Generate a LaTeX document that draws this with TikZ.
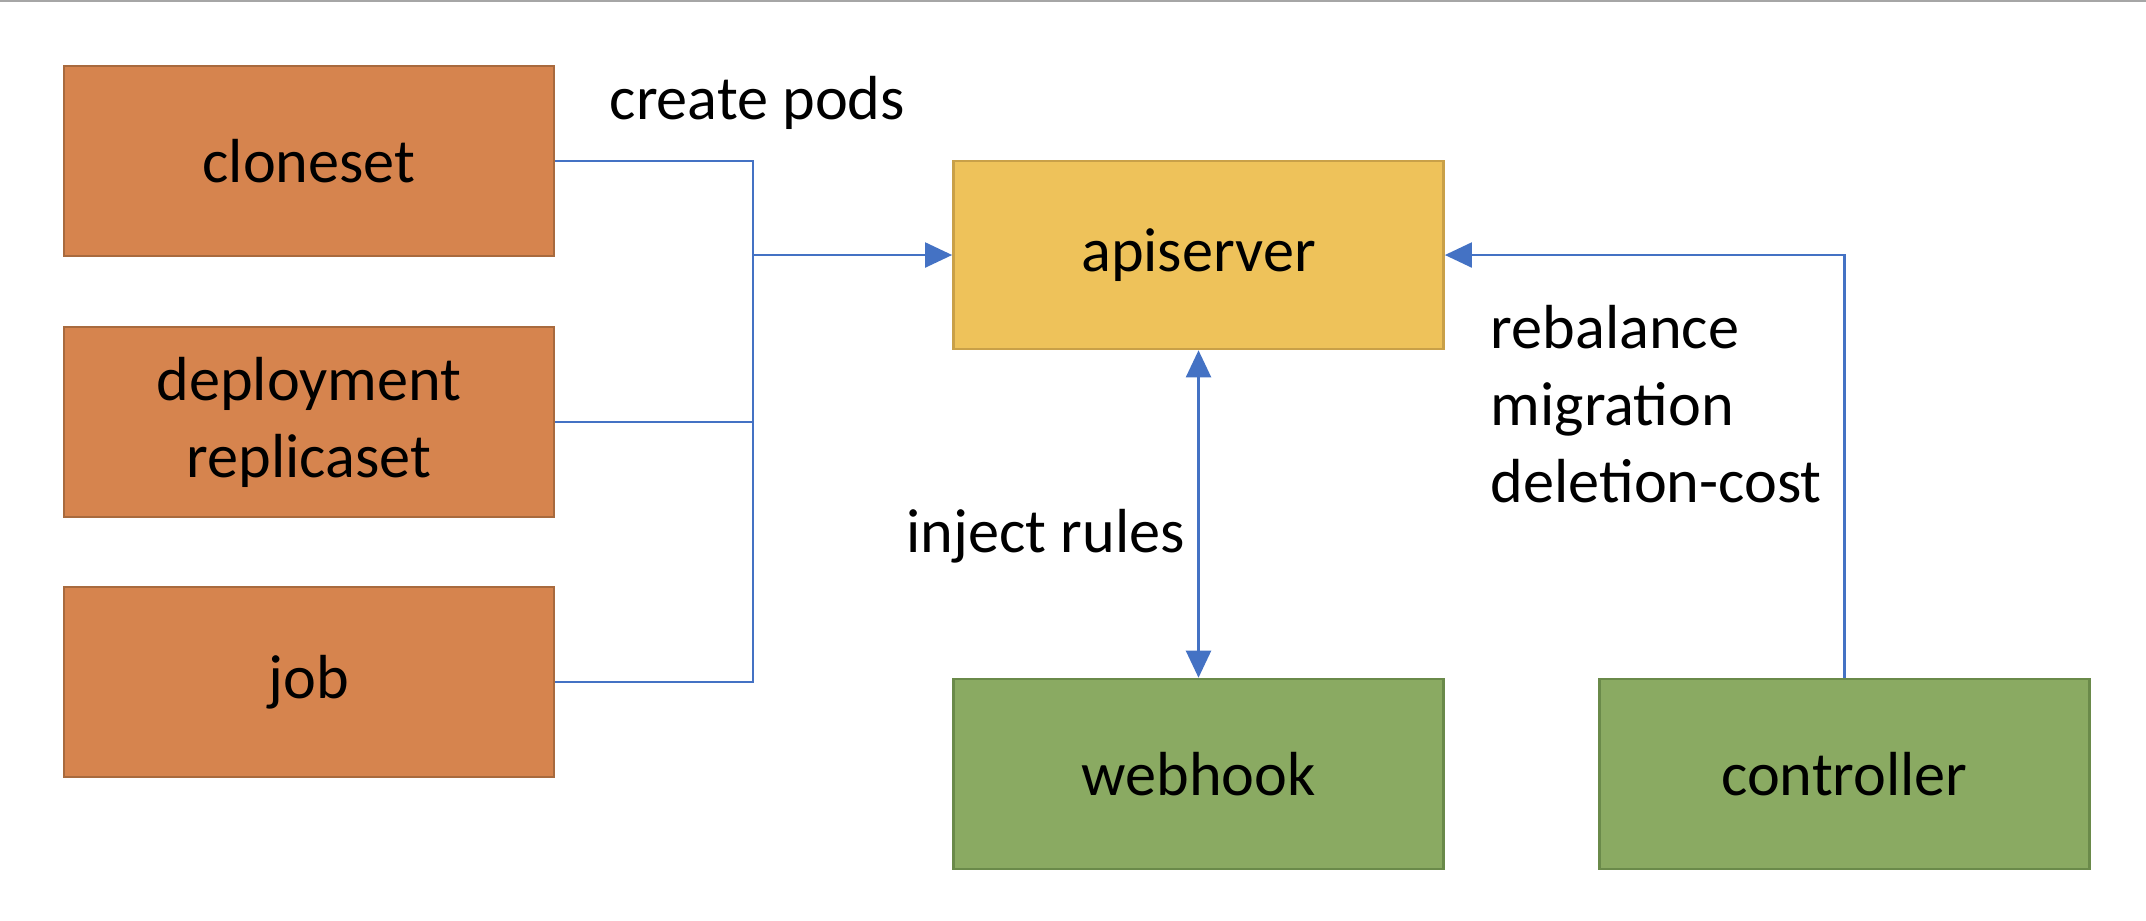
\documentclass[tikz,border=0pt]{standalone}
\usepackage{fontspec}
\setmainfont{Carlito}
\usetikzlibrary{arrows.meta}
\definecolor{orangefill}{HTML}{D6844E}
\definecolor{orangeline}{HTML}{A86A3E}
\definecolor{yellowfill}{HTML}{EEC25A}
\definecolor{yellowline}{HTML}{C9A048}
\definecolor{greenfill}{HTML}{8AAA62}
\definecolor{greenline}{HTML}{6A8A4A}
\definecolor{linkblue}{HTML}{4472C4}
\tikzset{
  box/.style={rectangle, minimum width=4.9cm, minimum height=1.9cm, inner sep=0pt, line width=0.7pt, align=center, font=\fontsize{17.7}{21.9}\selectfont},
  orangebox/.style={box, fill=orangefill, draw=orangeline},
  yellowbox/.style={box, fill=yellowfill, draw=yellowline, minimum height=1.88cm},
  greenbox/.style={box, fill=greenfill, draw=greenline},
  link/.style={draw=linkblue, line width=0.6pt},
  tip/.style={-{Triangle[length=0.27cm,width=0.25cm]}},
  bitip/.style={{Triangle[length=0.27cm,width=0.25cm]}-{Triangle[length=0.27cm,width=0.25cm]}},
  lbl/.style={inner sep=0pt, font=\fontsize{17.7}{21.9}\selectfont}
}
\begin{document}
\begin{tikzpicture}[x=0.01cm, y=-0.01cm]
\useasboundingbox (0,0) rectangle (2146,920);
\fill[white] (0,0) rectangle (2146,920);
\draw[gray!70, line width=0.6pt] (0,1) -- (2146,1);

\node[orangebox] (cloneset) at (309,161) {cloneset};
\node[orangebox] (deploy) at (309,422) {deployment\\replicaset};
\node[orangebox] (job) at (309,682) {job};
\node[yellowbox] (api) at (1198.5,255) {apiserver};
\node[greenbox] (webhook) at (1198.5,774) {webhook};
\node[greenbox] (controller) at (1844.5,774) {controller};

\coordinate (bus) at (753,255);
\draw[link] (cloneset.east) -- (cloneset.east -| bus) -- (job.east -| bus) -- (job.east);
\draw[link] (deploy.east) -- (deploy.east -| bus);
\draw[link, tip] (bus) -- (api.west);
\draw[link, bitip] (api.south) -- (webhook.north);
\draw[link, tip] (controller.north) |- (api.east);

\node[lbl, anchor=base west] (createlbl) at (609,119) {create pods};
\node[lbl, anchor=base west] (injectlbl) at (906,552) {inject rules};
\node[lbl, anchor=west, align=left] (ctrllbl) at (1490,404) {rebalance\\migration\\deletion-cost};
\end{tikzpicture}
\end{document}
